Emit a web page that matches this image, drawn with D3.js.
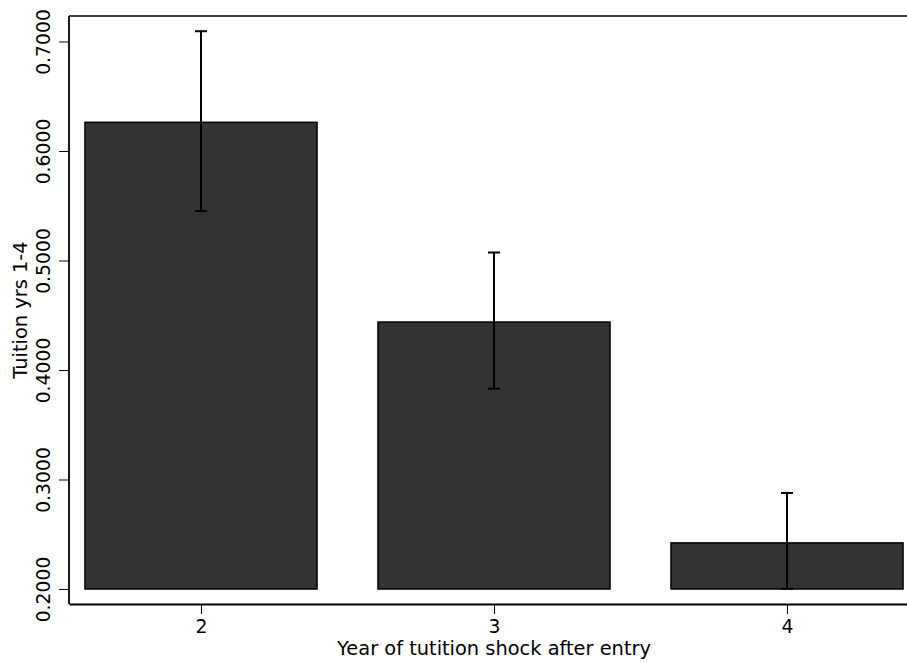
<!DOCTYPE html>
<html>
<head>
<meta charset="utf-8">
<script src="https://cdn.jsdelivr.net/npm/d3@7"></script>
<style>
  body { margin: 0; background: #fff; }
  text { font-family: "DejaVu Sans", sans-serif; fill: #000; }
</style>
</head>
<body>
<div id="chart"></div>
<script>
// data
var years = [2, 3, 4]
var means = [0.6262, 0.4438, 0.2421]
var ciLow = [0.5452, 0.3829, 0.2002]
var ciHigh = [0.7094, 0.5073, 0.2877]
var yTicks = [0.2, 0.3, 0.4, 0.5, 0.6, 0.7]

var svgWidth = 907
var svgHeight = 662

var svg = d3.select("#chart")
  .append("svg")
  .attr("width", svgWidth)
  .attr("height", svgHeight)

// plot region runs past the right edge of the picture
var plotLeft = 69
var plotRight = 919
var plotTop = 16
var plotBottom = 604

var x = d3.scaleLinear()
  .domain([1.5495, 4.4505])
  .range([plotLeft, plotRight])

var y = d3.scaleLinear()
  .domain([0.2, 0.7])
  .range([589, 41.5])

var barHalf = 0.396

// bars
svg.append("g")
  .selectAll("rect")
  .data(years)
  .enter()
  .append("rect")
  .attr("x", d => x(d - barHalf))
  .attr("width", d => x(d + barHalf) - x(d - barHalf))
  .attr("y", (d, i) => y(means[i]))
  .attr("height", (d, i) => y(0.2) - y(means[i]))
  .attr("fill", "#333333")
  .attr("stroke", "#000")
  .attr("stroke-width", 1.5)

// error bars
var err = svg.append("g")
  .attr("stroke", "#000")
  .attr("stroke-width", 2)

years.forEach(function(d, i) {
  var cx = x(d)
  err.append("line")
    .attr("x1", cx).attr("x2", cx)
    .attr("y1", y(ciLow[i])).attr("y2", y(ciHigh[i]))
  err.append("line")
    .attr("x1", cx - 6).attr("x2", cx + 6)
    .attr("y1", y(ciLow[i])).attr("y2", y(ciLow[i]))
  err.append("line")
    .attr("x1", cx - 6).attr("x2", cx + 6)
    .attr("y1", y(ciHigh[i])).attr("y2", y(ciHigh[i]))
})

// frame: left and top lines
svg.append("line")
  .attr("x1", plotLeft).attr("x2", plotLeft)
  .attr("y1", plotTop).attr("y2", plotBottom)
  .attr("stroke", "#000").attr("stroke-width", 1.8)
svg.append("line")
  .attr("x1", plotLeft).attr("x2", plotRight)
  .attr("y1", plotTop).attr("y2", plotTop)
  .attr("stroke", "#000").attr("stroke-width", 1.5)

// x axis
var xAxis = svg.append("g")
  .attr("transform", `translate(0, ${plotBottom})`)
  .call(d3.axisBottom(x).tickValues(years).tickFormat(d3.format("d"))
    .tickSize(10).tickPadding(6).tickSizeOuter(0))
xAxis.select(".domain").attr("stroke-width", 1.8)
xAxis.selectAll(".tick line").attr("stroke-width", 1)
xAxis.selectAll(".tick text")
  .attr("font-size", 18.8)
  .attr("font-family", "DejaVu Sans")

// y axis
var yAxis = svg.append("g")
  .attr("transform", `translate(${plotLeft}, 0)`)
  .call(d3.axisLeft(y).tickValues(yTicks).tickFormat(d3.format(".4f")).tickSize(10).tickSizeOuter(0))
yAxis.select(".domain").remove()
yAxis.selectAll(".tick line").attr("stroke-width", 1)
yAxis.selectAll(".tick text")
  .attr("font-size", 18.8)
  .attr("font-family", "DejaVu Sans")
  .attr("text-anchor", "middle")
  .attr("dy", 0)
  .attr("x", 0)
  .attr("transform", "translate(-19, 0) rotate(-90)")

// axis titles
svg.append("text")
  .attr("x", x(3))
  .attr("y", 655)
  .attr("text-anchor", "middle")
  .attr("font-size", 19.4)
  .text("Year of tutition shock after entry")

svg.append("text")
  .attr("transform", `translate(26.5, ${(plotTop + plotBottom) / 2}) rotate(-90)`)
  .attr("text-anchor", "middle")
  .attr("font-size", 19.4)
  .text("Tuition yrs 1-4")
</script>
</body>
</html>
